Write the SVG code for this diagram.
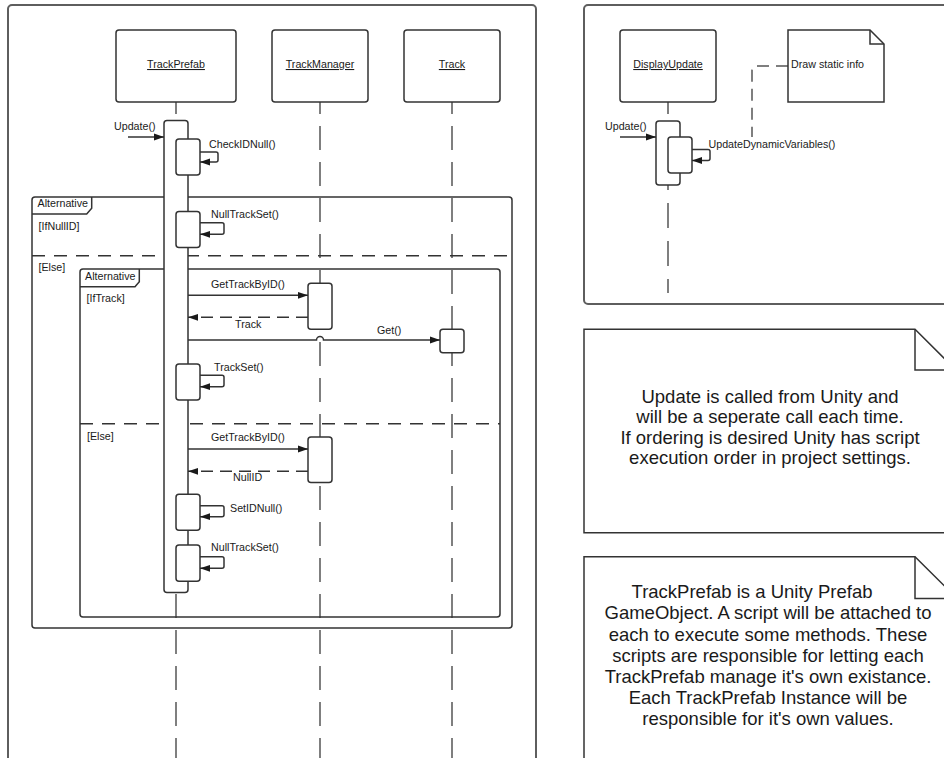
<svg xmlns="http://www.w3.org/2000/svg" width="944" height="758" viewBox="0 0 944 758">
  <defs>
    <style>
      .panel { fill: #ffffff; stroke: #5e5e5e; stroke-width: 2; }
      .box { fill: #ffffff; stroke: #333333; stroke-width: 1.5; }
      .act { fill: #ffffff; stroke: #333333; stroke-width: 1.5; }
      .frame { fill: none; stroke: #333333; stroke-width: 1.5; }
      .sep { fill: none; stroke: #333333; stroke-width: 1.5; stroke-dasharray: 13 9; }
      .life { fill: none; stroke: #555555; stroke-width: 1.5; stroke-dasharray: 24 12; stroke-dashoffset: 12; }
      .msg { fill: none; stroke: #333333; stroke-width: 1.5; marker-end: url(#ah); }
      .ret { fill: none; stroke: #333333; stroke-width: 1.5; stroke-dasharray: 12 7; marker-end: url(#ah); }
      .link { fill: none; stroke: #555555; stroke-width: 1.5; stroke-dasharray: 12 7; }
      .note { fill: #ffffff; stroke: #333333; stroke-width: 1.5; }
      text { font-family: "Liberation Sans", Arial, sans-serif; fill: #1a1a1a; }
      .lbl { font-size: 10.7px; }
      .head { font-size: 10.7px; text-anchor: middle; text-decoration: underline; }
      .big { font-size: 18.5px; text-anchor: middle; }
    </style>
    <marker id="ah" markerWidth="10" markerHeight="8" refX="10" refY="4" orient="auto" markerUnits="userSpaceOnUse">
      <path d="M0,0.6 L10,4 L0,7.4 Z" fill="#1a1a1a" stroke="none"/>
    </marker>
  </defs>

  <!-- panels -->
  <rect class="panel" x="8" y="5" width="528" height="790" rx="4"/>
  <rect class="panel" x="584" y="5" width="400" height="299" rx="4"/>

  <!-- lifelines -->
  <g id="lifelines">
    <path class="life" d="M176,102 V758"/>
    <path class="life" d="M320,102 V758"/>
    <path class="life" d="M452,102 V758"/>
    <path class="life" d="M668,102 V121"/>
    <path class="life" d="M668,185 V293" style="stroke-dasharray: 25 13; stroke-dashoffset: 20;"/>
  </g>

  <!-- lifeline heads -->
  <g id="trackprefab">
    <rect class="box" x="116" y="30" width="120" height="72" rx="3"/>
    <text class="head" x="176" y="68">TrackPrefab</text>
  </g>
  <g id="trackmanager">
    <rect class="box" x="272" y="30" width="96" height="72" rx="3"/>
    <text class="head" x="320" y="68">TrackManager</text>
  </g>
  <g id="track">
    <rect class="box" x="404" y="30" width="96" height="72" rx="3"/>
    <text class="head" x="452" y="68">Track</text>
  </g>
  <g id="displayupdate">
    <rect class="box" x="620" y="30" width="96" height="72" rx="3"/>
    <text class="head" x="668" y="68">DisplayUpdate</text>
  </g>

  <!-- combined fragments -->
  <g id="alt-outer">
    <rect class="frame" x="32" y="197" width="480" height="431" rx="3"/>
    <path class="frame" d="M32,214 H86.7 L91.7,208.3 V197"/>
    <text class="lbl" x="37.5" y="207">Alternative</text>
    <text class="lbl" x="38.5" y="230">[IfNullID]</text>
    <path class="sep" d="M32,255.7 H512"/>
    <text class="lbl" x="38.5" y="271">[Else]</text>
  </g>
  <g id="alt-inner">
    <rect class="frame" x="80" y="269" width="420" height="348" rx="3"/>
    <path class="frame" d="M80,286.7 H135 L139.3,281.7 V269"/>
    <text class="lbl" x="85" y="280">Alternative</text>
    <text class="lbl" x="86.5" y="302">[IfTrack]</text>
    <path class="sep" d="M80,423.7 H500"/>
    <text class="lbl" x="87" y="440">[Else]</text>
  </g>

  <!-- activations -->
  <g id="activations">
    <rect class="act" x="164" y="120.5" width="24" height="472" rx="3"/>
    <rect class="act" x="176" y="139" width="24" height="36" rx="3"/>
    <rect class="act" x="176" y="211.5" width="24" height="36" rx="3"/>
    <rect class="act" x="308" y="283.3" width="24" height="46" rx="3"/>
    <rect class="act" x="440" y="329.3" width="24" height="23.5" rx="3"/>
    <rect class="act" x="176" y="364" width="24" height="36" rx="3"/>
    <rect class="act" x="308" y="437" width="24" height="45.5" rx="3"/>
    <rect class="act" x="176" y="494.3" width="24" height="36" rx="3"/>
    <rect class="act" x="176" y="545" width="24" height="36.3" rx="3"/>
    <rect class="act" x="656" y="121" width="24" height="64" rx="3"/>
    <rect class="act" x="668" y="137" width="24" height="36" rx="3"/>
  </g>

  <!-- messages -->
  <g id="connectors">
    <path class="msg" d="M128,137 H164"/>
    <path class="msg" d="M200,152 H216 Q218,152 218,154 V160 Q218,162 216,162 H200"/>
    <path class="msg" d="M200,222.7 H222 Q224,222.7 224,224.7 V232.3 Q224,234.3 222,234.3 H200"/>
    <path class="msg" d="M188,295.3 H308"/>
    <path class="ret" d="M308,317.3 H188"/>
    <path class="msg" d="M188,340 H316.5 A3.5,3.5 0 0 1 323.5,340 H440"/>
    <path class="msg" d="M200,375.3 H222 Q224,375.3 224,377.3 V384.7 Q224,386.7 222,386.7 H200"/>
    <path class="msg" d="M188,449 H308"/>
    <path class="ret" d="M308,471.3 H188"/>
    <path class="msg" d="M200,505.7 H222 Q224,505.7 224,507.7 V514.7 Q224,516.7 222,516.7 H200"/>
    <path class="msg" d="M200,556.7 H222 Q224,556.7 224,558.7 V566.3 Q224,568.3 222,568.3 H200"/>
    <path class="msg" d="M620,137 H656"/>
    <path class="msg" d="M692,149.5 H708 Q710,149.5 710,151.5 V158.5 Q710,160.5 708,160.5 H692"/>
    <path class="link" d="M788,66 H756 Q752,66 752,70 V137"/>
  </g>

  <!-- message labels -->
  <g id="labels">
    <text class="lbl" x="114" y="130">Update()</text>
    <text class="lbl" x="209" y="148">CheckIDNull()</text>
    <text class="lbl" x="211" y="218">NullTrackSet()</text>
    <text class="lbl" x="211" y="288">GetTrackByID()</text>
    <text class="lbl" x="235" y="328">Track</text>
    <text class="lbl" x="377" y="334">Get()</text>
    <text class="lbl" x="214" y="371">TrackSet()</text>
    <text class="lbl" x="211" y="441">GetTrackByID()</text>
    <text class="lbl" x="233" y="481">NullID</text>
    <text class="lbl" x="230" y="512">SetIDNull()</text>
    <text class="lbl" x="211" y="551">NullTrackSet()</text>
    <text class="lbl" x="605" y="130">Update()</text>
    <text class="lbl" x="708.5" y="148">UpdateDynamicVariables()</text>
  </g>

  <!-- notes -->
  <g id="note-static">
    <path class="note" d="M788,30 H870 L884,44 V102 H788 Z"/>
    <path class="note" d="M870,30 V44 H884" style="fill:none"/>
    <text class="lbl" x="791" y="68">Draw static info</text>
  </g>
  <g id="note-update">
    <path class="note" d="M584,329.3 H915 L956,370 V532.7 H584 Z"/>
    <path class="note" d="M915,329.3 V370 H956" style="fill:none"/>
    <text class="big" x="770" y="402.7">Update is called from Unity and</text>
    <text class="big" x="770" y="423.3">will be a seperate call each time.</text>
    <text class="big" x="770" y="444">If ordering is desired Unity has script</text>
    <text class="big" x="770" y="464.3">execution order in project settings.</text>
  </g>
  <g id="note-prefab">
    <path class="note" d="M584,556.7 H915 L957,598.5 V800 H584 Z"/>
    <path class="note" d="M915,556.7 V598.5 H957" style="fill:none"/>
    <text class="big" x="752" y="598">TrackPrefab is a Unity Prefab</text>
    <text class="big" x="768" y="619">GameObject. A script will be attached to</text>
    <text class="big" x="768" y="640.5">each to execute some methods. These</text>
    <text class="big" x="768" y="662">scripts are responsible for letting each</text>
    <text class="big" x="768" y="683">TrackPrefab manage it's own existance.</text>
    <text class="big" x="768" y="704">Each TrackPrefab Instance will be</text>
    <text class="big" x="768" y="725">responsible for it's own values.</text>
  </g>
</svg>
